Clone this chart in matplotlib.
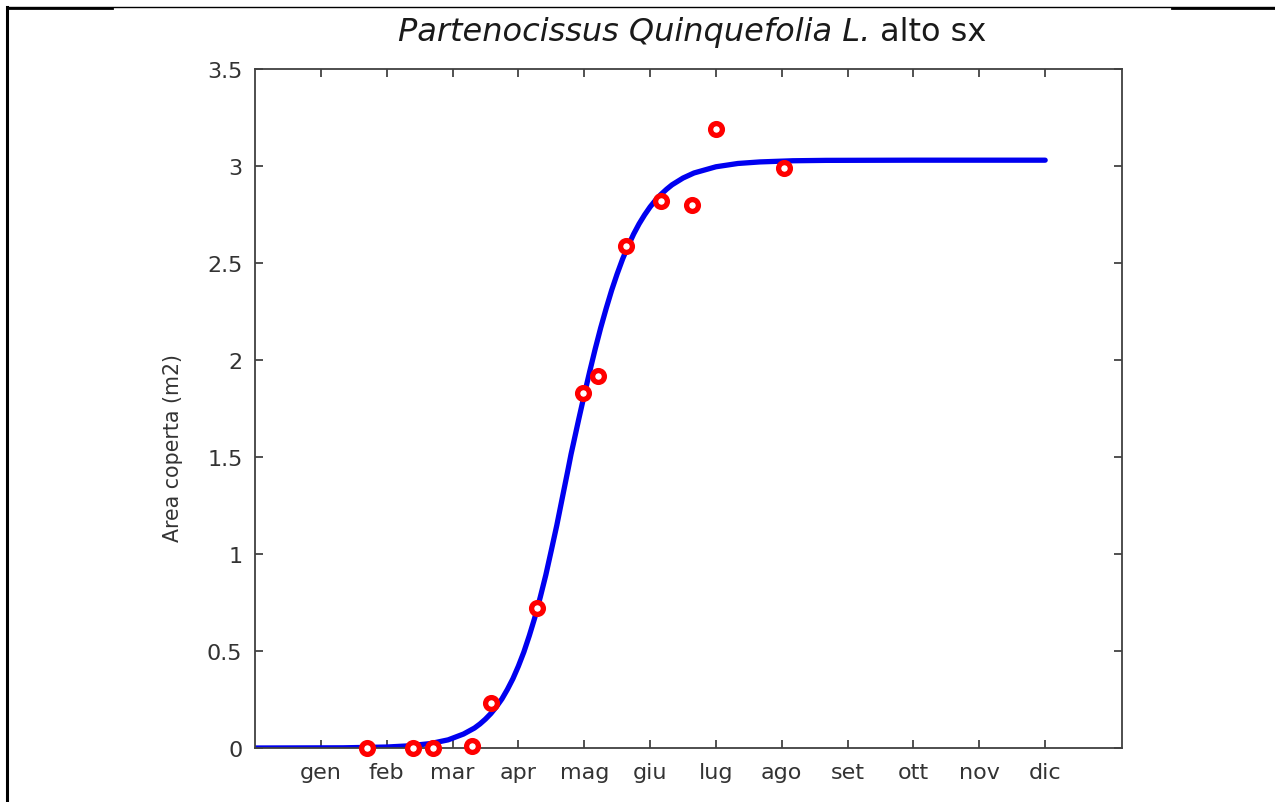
import matplotlib
matplotlib.use("Agg")
import matplotlib.pyplot as plt
from matplotlib.lines import Line2D
from matplotlib.ticker import FormatStrFormatter

# osservazioni (giorno dell'anno, area coperta m2)
obs_day = [51, 72, 81, 99, 107.6, 128.6, 149.6, 156.4, 169.2, 185.1, 199.3, 210.2, 240.8]
obs_area = [0.0, 0.0, 0.0, 0.01, 0.23, 0.72, 1.83, 1.92, 2.59, 2.82, 2.80, 3.19, 2.99]

# curva di crescita
fit_day = [0, 40, 60, 70, 80, 88, 95, 100, 102.5, 105, 107.5, 110, 112.5, 115, 117.5,
           120, 122.5, 125, 127.5, 130, 132.5, 135, 137.5, 140, 142.5, 144,
           145, 147.5, 150, 152.5, 155, 157.5, 160, 162.5, 165, 167.5, 170, 172.5,
           175, 177.5, 180, 182.5, 185, 187.5, 190, 195, 200, 210, 220, 230,
           245, 260, 300, 360]
fit_area = [0.0, 0.001, 0.005, 0.011, 0.023, 0.042, 0.072, 0.103, 0.124, 0.149, 0.178,
            0.213, 0.253, 0.302, 0.357, 0.422, 0.495, 0.580, 0.673, 0.779, 0.892,
            1.019, 1.148, 1.289, 1.429, 1.515,
            1.566, 1.695, 1.820, 1.941, 2.057, 2.166, 2.266, 2.360, 2.444, 2.521,
            2.588, 2.649, 2.702, 2.748, 2.789, 2.824, 2.854, 2.880, 2.903, 2.938,
            2.964, 2.996, 3.013, 3.021, 3.027, 3.029, 3.03, 3.03]

month_days = [30, 60, 90, 120, 150, 180, 210, 240, 270, 300, 330, 360]
month_labels = ['gen', 'feb', 'mar', 'apr', 'mag', 'giu', 'lug', 'ago', 'set', 'ott', 'nov', 'dic']
y_ticks = [0, 0.5, 1, 1.5, 2, 2.5, 3, 3.5]

fg = '#333333'
plt.rcParams['font.family'] = 'DejaVu Sans'

W, H = 1275.0, 803.0
fig = plt.figure(figsize=(12.75, 8.03), dpi=100)
ax = fig.add_axes([255 / W, 1 - 749 / H, 867 / W, 679 / H])

ax.plot(fit_day, fit_area, color='#0000f0', linewidth=3.8, zorder=2,
        solid_joinstyle='round', solid_capstyle='round')
ax.plot(obs_day, obs_area, linestyle='none', marker='o', markersize=8.5,
        markeredgewidth=3.8, markeredgecolor='#ff0000', markerfacecolor='white',
        zorder=3, clip_on=False)

ax.set_xlim(0, 395)
ax.set_ylim(0, 3.5)
ax.set_xticks(month_days)
ax.set_xticklabels(month_labels)
ax.set_yticks(y_ticks)
ax.yaxis.set_major_formatter(FormatStrFormatter('%g'))

ax.tick_params(direction='in', top=True, right=True, length=6, width=1.2,
               color=fg, labelcolor=fg, labelsize=16)
ax.tick_params(axis='x', pad=10)
ax.tick_params(axis='y', pad=9)
for sp in ax.spines.values():
    sp.set_color('#404040')
    sp.set_linewidth(1.3)

ax.set_ylabel('Area coperta (m2)', fontsize=14.8, color=fg)
ax.yaxis.set_label_coords((183 - 255) / 867, (749 - 448) / 679)

# titolo: parte in corsivo + parte normale
t1 = fig.text(398 / W, 1 - 41 / H, 'Partenocissus Quinquefolia L.', fontsize=23,
              fontstyle='italic', color='#1a1a1a', ha='left', va='baseline')
ax.annotate(' alto sx', xy=(1, 0), xycoords=t1, fontsize=23, color='#1a1a1a',
            ha='left', va='bottom')

# cornice dello screenshot
fig.add_artist(Line2D([7 / W, 7 / W], [0, 1 - 8 / H], color='black', linewidth=2.2,
                      transform=fig.transFigure))
fig.add_artist(Line2D([7 / W, 1.0], [1 - 8 / H, 1 - 8 / H], color='black', linewidth=1.0,
                      transform=fig.transFigure))
fig.add_artist(Line2D([7 / W, 112 / W], [1 - 9 / H, 1 - 9 / H], color='black', linewidth=2.0,
                      transform=fig.transFigure))
fig.add_artist(Line2D([1172 / W, 1.0], [1 - 9 / H, 1 - 9 / H], color='black', linewidth=2.0,
                      transform=fig.transFigure))

fig.savefig('out.png', dpi=100, facecolor='white')
